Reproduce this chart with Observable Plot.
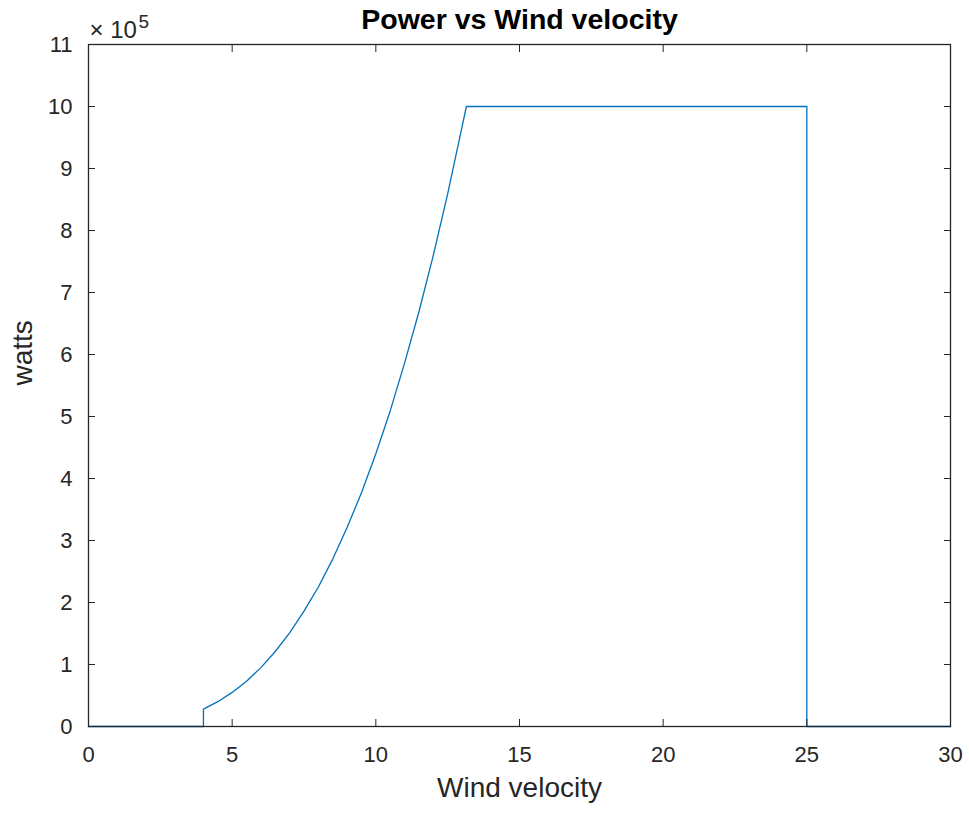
<!DOCTYPE html>
<html><head><meta charset="utf-8">
<script src="https://cdn.jsdelivr.net/npm/d3@7"></script>
<script src="https://cdn.jsdelivr.net/npm/@observablehq/plot@0.6"></script>
<style>body{margin:0;background:#fff}</style>
</head><body><div id="chart"></div>
<script>
const velocity = [0, 4, 4, 4.5, 5, 5.5, 6, 6.5, 7, 7.5, 8, 8.5, 9, 9.5, 10, 10.5, 11, 11.5, 12, 12.5, 13, 13.15, 25, 25, 30];
const power = [0, 0, 28000, 40000, 55000, 73000, 95000, 121000, 151000, 186000, 225000, 270000, 321000, 377000, 440000, 509000, 586000, 669000, 760000, 859000, 967000, 1000000, 1000000, 0, 0];
const xTicks = [0, 5, 10, 15, 20, 25, 30];
const yTicks = [0, 1e5, 2e5, 3e5, 4e5, 5e5, 6e5, 7e5, 8e5, 9e5, 10e5, 11e5];
const title = "Power vs Wind velocity";
const xLabel = "Wind velocity";
const yLabel = "watts";
const exponentBase = "× 10";
const exponent = "5";

const data = velocity.map((v, i) => ({v, p: power[i]}));
const font = "'Liberation Sans', Arial, Helvetica, sans-serif";
const axisColor = "#262626";

const chart = Plot.plot({
  width: 969, height: 814,
  marginLeft: 88, marginRight: 19, marginTop: 44, marginBottom: 88,
  style: {fontFamily: font, background: "#fff", color: axisColor},
  x: {domain: [0, 30]},
  y: {domain: [0, 11e5]},
  marks: [
    Plot.line(data, {x: "v", y: "p", stroke: "#0072BD", strokeWidth: 1.3}),
    Plot.frame({stroke: axisColor, strokeWidth: 1.3}),
    Plot.axisX(xTicks, {anchor: "bottom", tickSize: -7, tickPadding: 27, fontSize: 22, label: null, fill: axisColor}),
    Plot.axisX(xTicks, {anchor: "top", tickSize: -7, tickFormat: () => "", label: null}),
    Plot.axisY(yTicks, {anchor: "left", tickSize: -7, tickPadding: 23, fontSize: 22, label: null, tickFormat: d => d / 1e5, fill: axisColor}),
    Plot.axisY(yTicks, {anchor: "right", tickSize: -7, tickFormat: () => "", label: null}),
    Plot.text([title], {frameAnchor: "top", dy: -16, lineAnchor: "bottom", fontSize: 28.5, fontWeight: "bold", fill: "#000"}),
    Plot.text([xLabel], {frameAnchor: "bottom", dy: 62, lineAnchor: "middle", fontSize: 28, fill: axisColor}),
    Plot.text([yLabel], {frameAnchor: "left", dx: -65, rotate: -90, lineAnchor: "middle", fontSize: 28, fill: axisColor}),
    Plot.text([exponentBase], {frameAnchor: "top-left", dx: 1, dy: -7, textAnchor: "start", lineAnchor: "bottom", fontSize: 24, fill: axisColor}),
    Plot.text([exponent], {frameAnchor: "top-left", dx: 50, dy: -17, textAnchor: "start", lineAnchor: "bottom", fontSize: 19, fill: axisColor})
  ]
});
document.getElementById("chart").appendChild(chart);
</script>
</body></html>
